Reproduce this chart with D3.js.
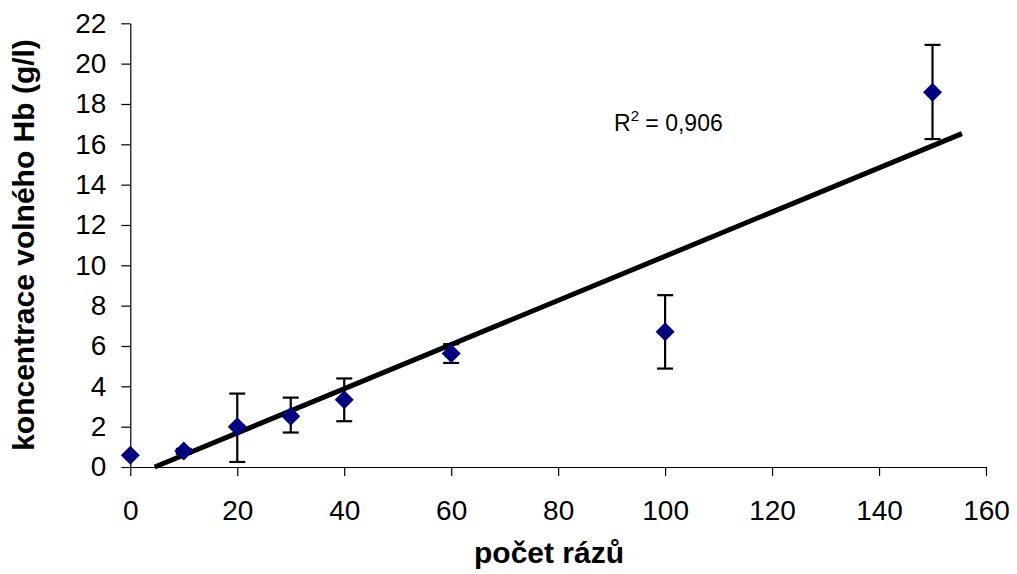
<!DOCTYPE html>
<html>
<head>
<meta charset="utf-8">
<script src="https://cdn.jsdelivr.net/npm/d3@7"></script>
<style>
  body { margin: 0; background: #fff; }
  text { font-family: "Liberation Sans", Arial, sans-serif; }
</style>
</head>
<body>
<div id="chart"></div>
<script>
// data
var xValues = [0, 10, 20, 30, 40, 60, 100, 150];
var yValues = [0.58, 0.79, 1.99, 2.52, 3.34, 5.63, 6.70, 18.58];
var errLow  = [0.58, 0.66, 0.25, 1.71, 2.27, 5.16, 4.88, 16.26];
var errHigh = [0.58, 0.90, 3.64, 3.44, 4.39, 6.09, 8.52, 20.93];
var xTicks = [0, 20, 40, 60, 80, 100, 120, 140, 160];
var yTicks = [0, 2, 4, 6, 8, 10, 12, 14, 16, 18, 20, 22];
// linear trendline
var trendSlope = 0.1095;
var trendIntercept = -0.50;
var trendEnd = 155.5;
var r2Label = "0,906";

var margin = { left: 130.3, right: 31, top: 23.3, bottom: 107 };
var width = 1017 - margin.left - margin.right;
var height = 574 - margin.top - margin.bottom;

var svg = d3.select("#chart")
    .append("svg")
    .attr("width", 1017)
    .attr("height", 574);

var g = svg.append("g")
    .attr("transform", "translate(" + margin.left + "," + margin.top + ")");

var x = d3.scaleLinear().domain([0, 160]).range([0, width]);
var y = d3.scaleLinear().domain([0, 22]).range([height, 0]);

// axes
var xAxisCall = d3.axisBottom(x).tickValues(xTicks).tickSize(9).tickPadding(24).tickSizeOuter(0);
var yAxisCall = d3.axisLeft(y).tickValues(yTicks).tickSize(9).tickPadding(15).tickSizeOuter(0);

var xAxis = g.append("g")
    .attr("transform", "translate(0," + height + ")")
    .call(xAxisCall);
var yAxis = g.append("g").call(yAxisCall);

[xAxis, yAxis].forEach(function(a){
    a.select(".domain").attr("stroke", "#000").attr("stroke-width", 1.2);
    a.selectAll(".tick line").attr("stroke", "#000").attr("stroke-width", 1.2);
    a.selectAll(".tick text")
        .attr("fill", "#000")
        .attr("font-size", "28px")
        .attr("font-family", "'Liberation Sans', Arial, sans-serif");
});

// trendline (clipped at y = 0)
var trendStart = -trendIntercept / trendSlope;
var trendData = [trendStart, trendEnd].map(function(v){
    return { x: v, y: trendSlope * v + trendIntercept };
});
g.append("path")
    .attr("fill", "none")
    .attr("stroke", "#000")
    .attr("stroke-width", 5)
    .attr("d", d3.line()
        .x(function(d){ return x(d.x); })
        .y(function(d){ return y(d.y); })(trendData));

// error bars
var points = xValues.map(function(v, i){
    return { x: v, y: yValues[i], lo: errLow[i], hi: errHigh[i] };
});
var eb = g.append("g").attr("stroke", "#000").attr("stroke-width", 2.2);
points.forEach(function(d){
    if (d.hi - d.lo <= 0) return;
    eb.append("line")
        .attr("x1", x(d.x)).attr("x2", x(d.x))
        .attr("y1", y(d.lo)).attr("y2", y(d.hi));
    [d.lo, d.hi].forEach(function(v){
        eb.append("line")
            .attr("x1", x(d.x) - 8).attr("x2", x(d.x) + 8)
            .attr("y1", y(v)).attr("y2", y(v));
    });
});

// diamond markers
g.selectAll(".pt")
    .data(points)
    .enter().append("path")
    .attr("class", "pt")
    .attr("d", "M0,-9.5L9.5,0L0,9.5L-9.5,0Z")
    .attr("fill", "#000080")
    .attr("transform", function(d){ return "translate(" + x(d.x) + "," + y(d.y) + ")"; });

// R^2 label
var r2 = svg.append("text")
    .attr("x", 614)
    .attr("y", 131)
    .attr("font-size", "23px")
    .attr("fill", "#000");
r2.append("tspan").text("R");
r2.append("tspan").attr("dy", -10).attr("font-size", "15px").text("2");
r2.append("tspan").attr("dy", 10).text(" = " + r2Label);

// axis titles
svg.append("text")
    .attr("x", 549)
    .attr("y", 563)
    .attr("text-anchor", "middle")
    .attr("font-size", "30px")
    .attr("font-weight", "bold")
    .text("počet rázů");

svg.append("text")
    .attr("transform", "rotate(-90)")
    .attr("x", -245)
    .attr("y", 34)
    .attr("text-anchor", "middle")
    .attr("font-size", "30px")
    .attr("font-weight", "bold")
    .text("koncentrace volného Hb (g/l)");
</script>
</body>
</html>
